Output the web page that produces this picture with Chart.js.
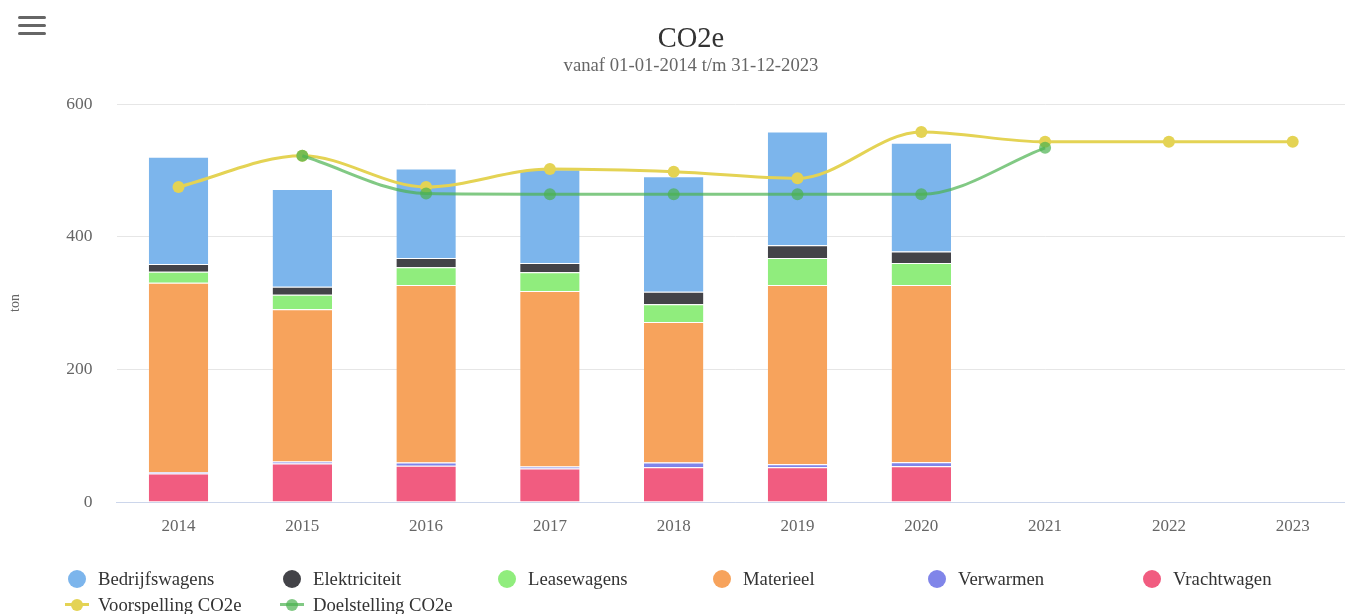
<!DOCTYPE html>
<html>
<head>
<meta charset="utf-8">
<title>CO2e</title>
<script src="https://cdn.jsdelivr.net/npm/chart.js@4/dist/chart.umd.min.js"></script>
<style>
    html, body { margin: 0; padding: 0; background: #fff; overflow: hidden; }
    #grafiek { position: relative; width: 1382px; height: 614px; }
    #menu { position: absolute; left: 18px; top: 16px; width: 28px; }
    #menu div { height: 3px; background: #666; border-radius: 2px; margin-bottom: 5px; }
    #legenda { position: absolute; left: 68px; top: 570px; display: grid; grid-template-columns: repeat(6, 215px); row-gap: 8px;
               font-family: 'Liberation Serif', 'Times New Roman', serif; font-size: 18.7px; color: #333; }
    .item { display: flex; align-items: center; height: 18px; white-space: nowrap; }
    .bol { width: 18px; height: 18px; border-radius: 50%; margin-right: 12px; flex: none; }
    .lijn { position: relative; width: 24px; height: 18px; margin-left: -3px; margin-right: 9px; flex: none; }
    .lijn span { position: absolute; left: 0; right: 0; top: 7px; height: 3px; }
    .lijn i { position: absolute; left: 6px; top: 3px; width: 12px; height: 12px; border-radius: 50%; }
</style>
</head>
<body>
<div id="grafiek">
    <canvas id="chartCO2e" width="1382" height="614"></canvas>
    <div id="menu"><div></div><div></div><div></div></div>
    <div id="legenda"></div>
</div>
<script>
//Gegevens per jaar (ton CO2e)
var jaren = ['2014', '2015', '2016', '2017', '2018', '2019', '2020', '2021', '2022', '2023'];
var bedrijfswagens = [161.5, 147.5, 135, 141, 174, 171.5, 164, null, null, null];
var elektriciteit = [12, 12, 14, 14, 19, 19, 17, null, null, null];
var leasewagens = [16.5, 22, 27, 28.5, 26.5, 41, 33.5, null, null, null];
var materieel = [285.5, 229.5, 267.5, 264.5, 212, 270, 267, null, null, null];
var verwarmen = [2, 3, 5, 3, 7, 4.5, 6, null, null, null];
var vrachtwagen = [43, 58, 54.5, 50.5, 52.5, 52.5, 54, null, null, null];
var voorspelling = [475, 522, 475, 502, 498, 488, 558, 543, 543, 543];
var doelstelling = [null, 522, 465, 464, 464, 464, 464, 534, null, null];
var yTicks = [0, 200, 400, 600];

var legendaVolgorde = ['Bedrijfswagens', 'Elektriciteit', 'Leasewagens', 'Materieel', 'Verwarmen', 'Vrachtwagen', 'Voorspelling CO2e', 'Doelstelling CO2e'];
var lettertype = "'Liberation Serif', 'Times New Roman', serif";

function balk(label, data, kleur){
    return {
        type: 'bar',
        label: label,
        data: data,
        backgroundColor: kleur,
        borderColor: '#ffffff',
        borderWidth: { top: 1, right: 0, bottom: 0, left: 0 },
        borderSkipped: false,
        stack: 'bronnen',
        order: 2,
        categoryPercentage: 0.6,
        barPercentage: 0.8
    };
}

function lijn(label, data, kleur, volgorde){
    return {
        type: 'line',
        label: label,
        data: data,
        borderColor: kleur,
        backgroundColor: kleur,
        borderWidth: 3,
        pointRadius: 6,
        pointBorderWidth: 0,
        pointBackgroundColor: kleur,
        cubicInterpolationMode: 'monotone',
        spanGaps: false,
        fill: false,
        stack: label,
        order: volgorde
    };
}

//De stapel begint onderaan met Vrachtwagen
var datasets = [
    balk('Vrachtwagen', vrachtwagen, '#f15c80'),
    balk('Verwarmen', verwarmen, '#8085e9'),
    balk('Materieel', materieel, '#f7a35c'),
    balk('Leasewagens', leasewagens, '#90ed7d'),
    balk('Elektriciteit', elektriciteit, '#434348'),
    balk('Bedrijfswagens', bedrijfswagens, '#7cb5ec'),
    lijn('Voorspelling CO2e', voorspelling, '#e4d354', 1),
    lijn('Doelstelling CO2e', doelstelling, 'rgba(76, 178, 80, 0.7)', 0)
];

var ctx = document.getElementById('chartCO2e').getContext('2d');
var myChart = new Chart(ctx, {
    type: 'bar',
    data: {
        labels: jaren,
        datasets: datasets
    },
    options: {
        responsive: false,
        animation: false,
        layout: {
            padding: { left: 27.4, right: 27.4, top: 0, bottom: 70 }
        },
        plugins: {
            legend: { display: false },
            tooltip: { enabled: false },
            title: {
                display: true,
                text: 'CO2e',
                color: '#333333',
                font: { family: lettertype, size: 28.5, weight: 'normal' },
                padding: { top: 22, bottom: 0 }
            },
            subtitle: {
                display: true,
                text: 'vanaf 01-01-2014 t/m 31-12-2023',
                color: '#666666',
                font: { family: lettertype, size: 18.7, weight: 'normal' },
                padding: { top: -1, bottom: 26.4 }
            }
        },
        scales: {
            x: {
                stacked: true,
                grid: { display: false, drawTicks: false },
                border: { display: true, color: '#ccd6eb', width: 1 },
                ticks: { color: '#666666', font: { family: lettertype, size: 17 }, padding: 14 },
                afterFit: function(scale){ scale.height = 42; }
            },
            y: {
                stacked: true,
                min: 0,
                max: 600,
                afterBuildTicks: function(scale){
                    scale.ticks = yTicks.map(function(v){ return { value: v }; });
                },
                grid: {
                    drawTicks: false,
                    color: function(c){ return c.tick && c.tick.value === 0 ? '#ccd6eb' : '#e6e6e6'; }
                },
                border: { display: false },
                ticks: { color: '#666666', font: { family: lettertype, size: 17.5 }, padding: 24 },
                title: {
                    display: true,
                    text: 'ton',
                    color: '#666666',
                    font: { family: lettertype, size: 14 },
                    padding: { top: -20, bottom: 0 }
                },
                afterFit: function(scale){ scale.width = 89.2; }
            }
        }
    }
});

//Legenda in een raster onder de grafiek
function maakLegenda(chart){
    var html = '';
    legendaVolgorde.forEach(function(naam){
        var ds = chart.data.datasets.find(function(d){ return d.label == naam; });
        if(ds.type == 'line'){
            html += '<div class="item"><span class="lijn"><span style="background:' + ds.borderColor + '"></span><i style="background:' + ds.borderColor + '"></i></span>' + naam + '</div>';
        }else{
            html += '<div class="item"><span class="bol" style="background:' + ds.backgroundColor + '"></span>' + naam + '</div>';
        }
    });
    document.getElementById('legenda').innerHTML = html;
}
maakLegenda(myChart);
</script>
</body>
</html>
